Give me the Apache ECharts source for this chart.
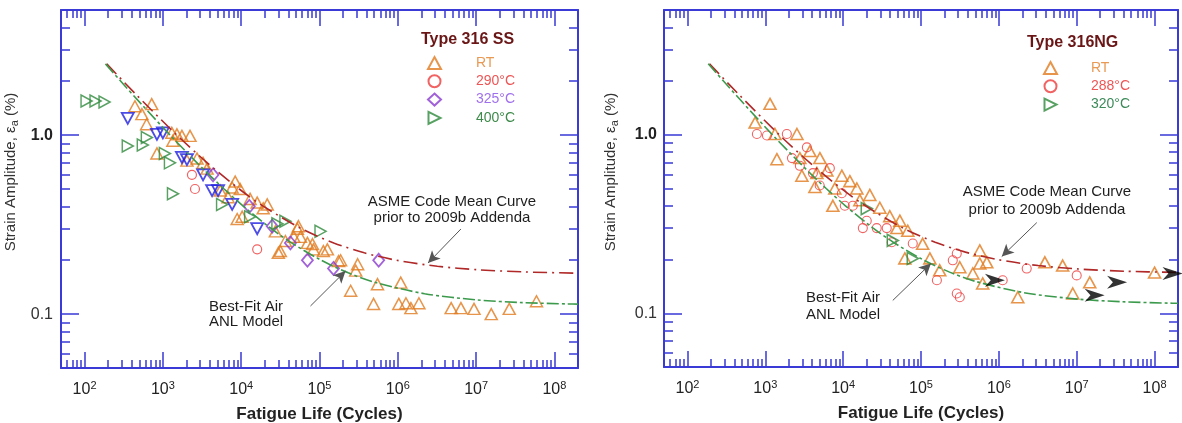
<!DOCTYPE html>
<html><head><meta charset="utf-8">
<script src="https://cdn.jsdelivr.net/npm/echarts@6/dist/echarts.min.js"></script>
<style>html,body{margin:0;padding:0;background:#fff}#c{width:1182px;height:423px}</style>
</head><body><div id="c"></div>
<script>
// ---------------- data ----------------
const xRange = [50, 2e8];
const yRange = [0.05, 5];
const xMajorExp = [2, 3, 4, 5, 6, 7, 8];              // tick labels 10^n
const xMinorDecades = [10, 100, 1e3, 1e4, 1e5, 1e6, 1e7];
const minorMultipliers = [2, 3, 4, 5, 6, 7, 8, 9];
const yMajorTicks = [0.1, 1.0];
const yMajorLabels = ['0.1', '1.0'];
const yMinorTicks = [0.06, 0.07, 0.08, 0.09, 0.2, 0.3, 0.4, 0.5, 0.6, 0.7, 0.8, 0.9, 2, 3, 4];

// Type 316 SS (left)
const ss_RT = [[440,1.45],[720,1.49],[540,1.31],[620,1.15],[1300,1.03],[1510,1.01],[1750,0.99],[2220,0.99],[1340,0.93],[840,0.79],[2030,0.72],[2730,0.74],[3260,0.70],[3670,0.65],[8380,0.55],[7670,0.51],[9700,0.50],[8890,0.34],[16000,0.42],[19100,0.39],[29800,0.22],[52200,0.30],[57100,0.27],[70100,0.25],[83700,0.23],[1.12e5,0.225],[1.26e5,0.23],[1.86e5,0.20],[3.07e5,0.19],[2.9e5,0.175],[2.5e5,0.135],[5.5e5,0.147],[1.09e6,0.15],[4.9e5,0.114],[1.03e6,0.114],[1.27e6,0.115],[1.47e6,0.108],[1.86e6,0.115],[4.8e6,0.108],[6.4e6,0.108],[9.4e6,0.107],[1.56e7,0.10],[2.65e7,0.107],[5.9e7,0.118],[10300,0.35],[21500,0.41],[31600,0.225],[53700,0.31],[81300,0.246],[1.75e5,0.198],[5400,0.49],[6800,0.45],[13000,0.44],[36700,0.256],[47000,0.27],[27300,0.29]];
const ss_290C = [[2350,0.60],[2570,0.50],[16000,0.23]];
const ss_325C = [[4370,0.60],[12700,0.40],[24900,0.31],[42500,0.25],[70100,0.20],[1.51e5,0.18],[5.7e5,0.20]];
const ss_400C = [[106,1.55],[138,1.55],[180,1.53],[356,0.87],[554,0.88],[624,0.97],[1060,0.79],[1230,0.70],[1345,0.47],[5700,0.41],[13000,0.35],[29000,0.32],[36700,0.33],[1.03e5,0.29]];
const ss_other = [[356,1.24],[840,1.01],[1000,1.03],[1750,0.75],[2030,0.73],[3260,0.60],[4250,0.49],[5070,0.49],[7670,0.41],[16000,0.30]];

// Type 316NG (right)
const ng_RT = [[1150,1.49],[740,1.17],[1330,1.01],[2550,1.01],[1410,0.73],[2780,0.74],[3740,0.81],[5030,0.74],[2950,0.59],[4600,0.61],[6180,0.63],[9620,0.59],[4340,0.51],[7820,0.50],[15000,0.50],[7380,0.40],[22000,0.46],[29600,0.39],[53500,0.33],[48900,0.30],[67700,0.29],[1.05e5,0.245],[62000,0.203],[1.3e5,0.203],[1.74e5,0.174],[3.15e5,0.181],[4.63e5,0.167],[5.69e5,0.225],[5.69e5,0.19],[7e5,0.193],[6.2e5,0.147],[1.75e6,0.123],[3.9e6,0.193],[6.6e6,0.185],[8.9e6,0.129],[1.47e7,0.149],[1e8,0.169],[12200,0.55],[16400,0.43],[39700,0.35]];
const ng_288C = [[780,1.01],[1050,0.99],[1890,1.01],[3420,0.85],[2200,0.74],[4090,0.61],[6750,0.65],[9620,0.47],[13300,0.40],[20100,0.33],[17900,0.30],[27000,0.30],[36300,0.30],[42100,0.25],[78400,0.246],[1.6e5,0.153],[2.88e5,0.216],[2.88e5,0.129],[2.56e5,0.198],[3.15e5,0.123],[1.12e6,0.153],[2.28e6,0.178],[1e7,0.163],[2780,0.67],[10500,0.40],[5000,0.52]];
const ng_320C = [[20100,0.386],[43400,0.256],[78400,0.203]];
const ng_runout = [[8.9e5,0.153],[3.3e7,0.149],[1.7e7,0.126],[1.7e8,0.167]];

// curves
const bestFitAir = [[185,2.5],[290,2.0],[524,1.5],[1235,1.0],[2730,0.7],[3900,0.6],[6060,0.5],[10700,0.4],[24300,0.3],[44000,0.25],[1.05e5,0.2],[2.33e5,0.17],[5.25e5,0.15],[2.2e6,0.13],[1.04e7,0.12],[3.9e7,0.116],[1.5e8,0.114],[2e8,0.1137]];
const asmeMean = [[192,2.5],[446,1.7],[1510,1.0],[3690,0.7],[9440,0.5],[19300,0.4],[59000,0.3],[1.52e5,0.25],[3.73e5,0.22],[9.6e5,0.2],[3.2e6,0.185],[1.05e7,0.177],[4.2e7,0.172],[2e8,0.1693]];

// annotation arrows [from, to] in data coordinates
const arrowsSS = [[[6.4e6,0.299],[2.43e6,0.193]], [[76700,0.111],[2.15e5,0.174]]];
const arrowsNG = [[[3.07e6,0.322],[1.09e6,0.208]], [[43400,0.118],[1.34e5,0.19]]];

// ---------------- styling ----------------
const FONT = '"Liberation Sans", Arial, Helvetica, sans-serif';
const AX = '#3a3ad6';
const C = {RT:'#e07a1e', red:'#ee3b3b', purple:'#8a3ad0', green:'#2e8a3c', blue:'#1f1fe0'};
const L10 = Math.log10;
const xMinor = [];
xMinorDecades.forEach(d => minorMultipliers.forEach(m => { const v = d*m; if (v > xRange[0] && v < xRange[1]) xMinor.push(v); }));
const xMajor = xMajorExp.map(e => Math.pow(10, e));

function xAxesFor(g) {
  const lx = [L10(xRange[0]), L10(xRange[1])];
  const common = {gridIndex:g, type:'value', min:lx[0], max:lx[1], splitLine:{show:false}, axisLine:{show:false, onZero:false}, axisLabel:{show:false}};
  const tick = (vals, len) => ({show:true, inside:true, length:len, customValues:vals.map(L10), lineStyle:{color:AX, width:1.5}});
  return [
    {gridIndex:g, type:'log', logBase:10, min:xRange[0], max:xRange[1], position:'bottom',
     axisLine:{show:true, onZero:false, lineStyle:{color:AX, width:2}}, axisTick:{show:false}, axisLabel:{show:false}, splitLine:{show:false},
     name:'Fatigue Life (Cycles)', nameLocation:'middle', nameGap:38,
     nameTextStyle:{fontFamily:FONT, fontSize:17, fontWeight:'bold', color:'#222'}},
    Object.assign({}, common, {position:'bottom', axisTick:tick(xMajor, 16),
      axisLabel:{show:true, customValues:xMajorExp, margin:12,
        formatter: v => '{b|10}{s|' + Math.round(v) + '}',
        rich:{b:{fontFamily:FONT, fontSize:16, color:'#222'}, s:{fontFamily:FONT, fontSize:11, color:'#222', padding:[0,0,9,0]}}}}),
    Object.assign({}, common, {position:'bottom', axisTick:tick(xMinor, 8)}),
    Object.assign({}, common, {position:'top', axisLine:{show:true, onZero:false, lineStyle:{color:AX, width:2}}, axisTick:tick(xMajor, 16)}),
    Object.assign({}, common, {position:'top', axisTick:tick(xMinor, 8)})
  ];
}
function yAxesFor(g, labelMargin) {
  const ly = [L10(yRange[0]), L10(yRange[1])];
  const common = {gridIndex:g, type:'value', min:ly[0], max:ly[1], splitLine:{show:false}, axisLine:{show:false, onZero:false}, axisLabel:{show:false}};
  const tick = (vals, len) => ({show:true, inside:true, length:len, customValues:vals.map(L10), lineStyle:{color:AX, width:1.5}});
  return [
    {gridIndex:g, type:'log', logBase:10, min:yRange[0], max:yRange[1], position:'left',
     axisLine:{show:true, onZero:false, lineStyle:{color:AX, width:2}}, axisTick:{show:false}, axisLabel:{show:false}, splitLine:{show:false}},
    Object.assign({}, common, {position:'left', axisTick:tick(yMajorTicks, 18),
      axisLabel:{show:true, customValues:yMajorTicks.map(L10), margin:labelMargin,
        formatter: v => { const i = Math.round(v) === 0 ? 1 : 0; return i === 1 ? '{b|' + yMajorLabels[1] + '}' : '{n|' + yMajorLabels[0] + '}'; },
        rich:{b:{fontFamily:FONT, fontSize:16, fontWeight:'bold', color:'#222'}, n:{fontFamily:FONT, fontSize:16, color:'#333'}}}}),
    Object.assign({}, common, {position:'left', axisTick:tick(yMinorTicks, 9)}),
    Object.assign({}, common, {position:'right', axisLine:{show:true, onZero:false, lineStyle:{color:AX, width:2}}, axisTick:tick(yMajorTicks, 18)}),
    Object.assign({}, common, {position:'right', axisTick:tick(yMinorTicks, 9)})
  ];
}

function hollow(color, w) { return {color:'rgba(255,255,255,0)', borderColor:color, borderWidth:w}; }
function scatter(name, data, ai, symbol, size, rot, color, bw) {
  return {name, type:'scatter', data, xAxisIndex:ai, yAxisIndex:ai, symbol, symbolSize:size, symbolRotate:rot,
          itemStyle:hollow(color, bw), z:3, silent:true};
}
function curves(ai, arrows) {
  return [
    {name:'asme'+ai, type:'line', data:asmeMean, xAxisIndex:ai, yAxisIndex:ai, showSymbol:false, smooth:0.3, z:4, silent:true,
     lineStyle:{color:'#b02828', width:1.6, type:[14,5,2,5]}},
    {name:'best'+ai, type:'line', data:bestFitAir, xAxisIndex:ai, yAxisIndex:ai, showSymbol:false, smooth:0.3, z:4, silent:true,
     lineStyle:{color:'#3c9a4c', width:1.6, type:[12,3,3,3]},
     markLine:{silent:true, symbol:['none','arrow'], symbolSize:[9,12], label:{show:false},
       lineStyle:{color:'#555', width:1, type:'solid'},
       data: arrows.map(a => [{coord:a[0]}, {coord:a[1]}])}}
  ];
}

const legendText = {fontFamily:FONT, fontSize:14};
const RIGHT_TRI = 'path://M0,0L12,6L0,12Z';
const series = [].concat(
  curves(0, arrowsSS),
  [scatter('RT|ss', ss_RT, 0, 'triangle', [12,11], 0, C.RT, 1.5),
   scatter('290°C|ss', ss_290C, 0, 'circle', 9, 0, C.red, 1.2),
   scatter('325°C|ss', ss_325C, 0, 'diamond', [11,13], 0, C.purple, 1.8),
   scatter('400°C|ss', ss_400C, 0, 'triangle', [12,11], -90, C.green, 1.5),
   scatter('other|ss', ss_other, 0, 'triangle', [12,11], 180, C.blue, 1.8)],
  curves(5, arrowsNG),
  [scatter('RT|ng', ng_RT, 5, 'triangle', [12,11], 0, C.RT, 1.6),
   scatter('288°C|ng', ng_288C, 5, 'circle', 9, 0, C.red, 1.1),
   scatter('320°C|ng', ng_320C, 5, 'triangle', [12,11], -90, C.green, 1.6),
   {name:'runout', type:'scatter', data:ng_runout, xAxisIndex:5, yAxisIndex:5, symbol:'path://M0,0L24,9L0,18L7,9Z', symbolSize:[20,13],
    itemStyle:{color:'#000'}, z:5, silent:true}]
);

function legendItem(name, color, textColor, icon) {
  const it = {name, textStyle:{color:textColor}, itemStyle:{color:'rgba(255,255,255,0)', borderColor:color, borderWidth:2}};
  if (icon) it.icon = icon;
  return it;
}

const yTitle = '{n|Strain Amplitude, ε}{sub|a}{n| (%)}';
const yTitleRich = {n:{fontFamily:FONT, fontSize:15, fill:'#333'}, sub:{fontFamily:FONT, fontSize:11, fill:'#333', padding:[7,0,0,0]}};
const annFont = {fontFamily:FONT, fontSize:15, fill:'#1e1e1e', align:'center', verticalAlign:'middle'};

const option = {
  animation:false,
  backgroundColor:'#fff',
  textStyle:{fontFamily:FONT},
  grid:[{left:61, top:10, width:517, height:358, outerBoundsMode:'none'},
        {left:664, top:10, width:514, height:357, outerBoundsMode:'none'}],
  xAxis: xAxesFor(0).concat(xAxesFor(1)),
  yAxis: yAxesFor(0, 8).concat(yAxesFor(1, 7)),
  title:[
    {text:'Type 316 SS', left:421, top:32, padding:0, textStyle:{fontFamily:FONT, fontSize:16, fontWeight:'bold', color:'#6a1616'}},
    {text:'Type 316NG', left:1027, top:35, padding:0, textStyle:{fontFamily:FONT, fontSize:16, fontWeight:'bold', color:'#6a1616'}}
  ],
  legend:[
    {left:427, top:56, orient:'vertical', padding:0, itemWidth:13, itemHeight:12, itemGap:4.3, selectedMode:false,
     formatter: n => n.split('|')[0], textStyle:Object.assign({padding:[0,0,0,30]}, legendText),
     data:[legendItem('RT|ss', C.RT, '#e89a55'), legendItem('290°C|ss', C.red, '#ee5555'),
           legendItem('325°C|ss', C.purple, '#a070ee'), legendItem('400°C|ss', C.green, '#3d8a4a', RIGHT_TRI)]},
    {left:1043, top:61, orient:'vertical', padding:0, itemWidth:13, itemHeight:12, itemGap:4.3, selectedMode:false,
     formatter: n => n.split('|')[0], textStyle:Object.assign({padding:[0,0,0,29]}, legendText),
     data:[legendItem('RT|ng', C.RT, '#e89a55'), legendItem('288°C|ng', C.red, '#ee5555'),
           legendItem('320°C|ng', C.green, '#3d8a5a', RIGHT_TRI)]}
  ],
  graphic:[
    {type:'text', x:11, y:172, rotation:Math.PI/2, style:{text:yTitle, rich:yTitleRich, align:'center', verticalAlign:'middle'}},
    {type:'text', x:611, y:172, rotation:Math.PI/2, style:{text:yTitle, rich:yTitleRich, align:'center', verticalAlign:'middle'}},
    {type:'text', x:452, y:210, style:Object.assign({text:'ASME Code Mean Curve\nprior to 2009b Addenda', lineHeight:16}, annFont)},
    {type:'text', x:246, y:314, style:Object.assign({text:'Best-Fit Air\nANL Model', lineHeight:15}, annFont)},
    {type:'text', x:1047, y:201, style:Object.assign({text:'ASME Code Mean Curve\nprior to 2009b Addenda', lineHeight:18}, annFont)},
    {type:'text', x:843, y:306, style:Object.assign({text:'Best-Fit Air\nANL Model', lineHeight:17}, annFont)}
  ],
  series
};
const chart = echarts.init(document.getElementById('c'), null, {renderer:'canvas'});
chart.setOption(option);
</script></body></html>
